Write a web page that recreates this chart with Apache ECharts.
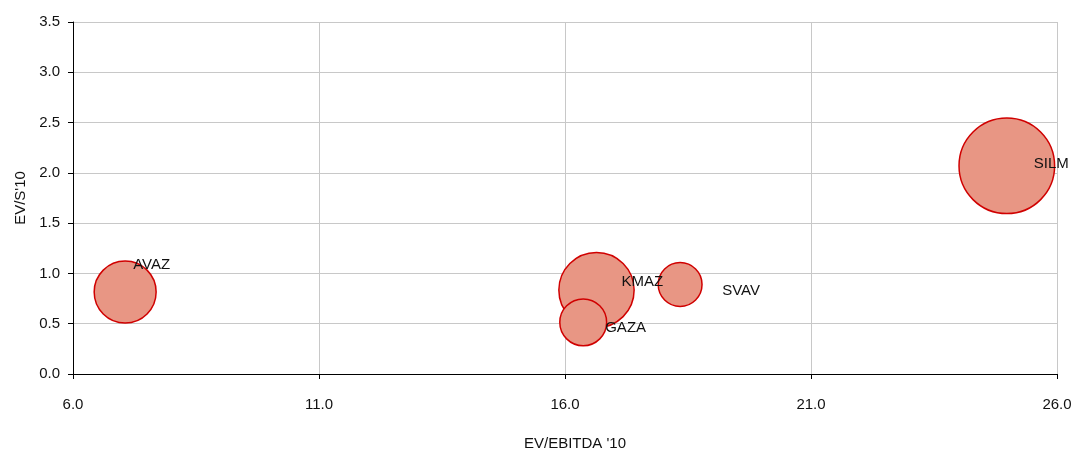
<!DOCTYPE html>
<html>
<head>
<meta charset="utf-8">
<script src="https://cdn.jsdelivr.net/npm/echarts@6/dist/echarts.min.js"></script>
<style>
html,body{margin:0;padding:0;background:#fff;}
#c{width:1085px;height:452px;}
</style>
</head>
<body>
<div id="c"></div>
<script>
const names = ['AVAZ', 'KMAZ', 'GAZA', 'SVAV', 'SILM'];
const evEbitda = [7.06, 16.64, 16.37, 18.34, 24.98];
const evSales = [0.815, 0.835, 0.514, 0.89, 2.07];
const bubbleSize = [42, 62, 24, 21, 100];
const xTicks = [6, 11, 16, 21, 26];
const yTicks = [0, 0.5, 1, 1.5, 2, 2.5, 3, 3.5];

const labelOffsets = {
  AVAZ: [8, -27],
  KMAZ: [25, -8],
  GAZA: [22, 6],
  SVAV: [42, 6],
  SILM: [27, -2]
};

const maxSize = Math.max(...bubbleSize);
const maxDiameter = 95.6;

const data = names.map((n, i) => ({
  name: n,
  value: [evEbitda[i], evSales[i], bubbleSize[i]],
  label: {offset: labelOffsets[n]}
}));

const font = '"Liberation Sans", Arial, sans-serif';
const fs = 15;
const chart = echarts.init(document.getElementById('c'));
chart.setOption({
  animation: false,
  backgroundColor: '#ffffff',
  grid: {left: 73, right: 28, top: 22, bottom: 78, containLabel: false, outerBoundsMode: 'none'},
  xAxis: {
    type: 'value',
    min: xTicks[0], max: xTicks[xTicks.length - 1], interval: 5,
    name: "EV/EBITDA '10",
    nameLocation: 'middle',
    nameGap: 62,
    nameTextStyle: {color: '#111', fontSize: fs, fontFamily: font, padding: [0, 0, 0, 20]},
    axisLine: {show: true, onZero: false, lineStyle: {color: '#000', width: 1}},
    axisTick: {show: true, inside: false, length: 5, lineStyle: {color: '#000'}},
    axisLabel: {color: '#111', fontSize: fs, fontFamily: font, margin: 23,
      formatter: v => v.toFixed(1)},
    splitLine: {show: true, lineStyle: {color: '#c8c8c8', width: 1}}
  },
  yAxis: {
    type: 'value',
    min: yTicks[0], max: yTicks[yTicks.length - 1], interval: 0.5,
    name: "EV/S'10",
    nameLocation: 'middle',
    nameGap: 39,
    nameRotate: 90,
    nameTextStyle: {color: '#111', fontSize: fs, fontFamily: font},
    axisLine: {show: true, onZero: false, lineStyle: {color: '#000', width: 1}},
    axisTick: {show: true, inside: false, length: 5, lineStyle: {color: '#000'}},
    axisLabel: {color: '#111', fontSize: fs, fontFamily: font, margin: 13,
      formatter: v => v.toFixed(1)},
    splitLine: {show: true, lineStyle: {color: '#c8c8c8', width: 1}}
  },
  series: [{
    type: 'scatter',
    data: data,
    symbol: 'circle',
    symbolSize: v => Math.sqrt(v[2] / maxSize) * maxDiameter,
    itemStyle: {color: 'rgb(232,150,132)', borderColor: '#d00000', borderWidth: 1.5, opacity: 1},
    label: {
      show: true,
      position: 'inside',
      align: 'left',
      verticalAlign: 'middle',
      formatter: p => p.name,
      color: '#111',
      fontSize: fs,
      fontFamily: font
    },
    emphasis: {disabled: true}
  }]
});
</script>
</body>
</html>
